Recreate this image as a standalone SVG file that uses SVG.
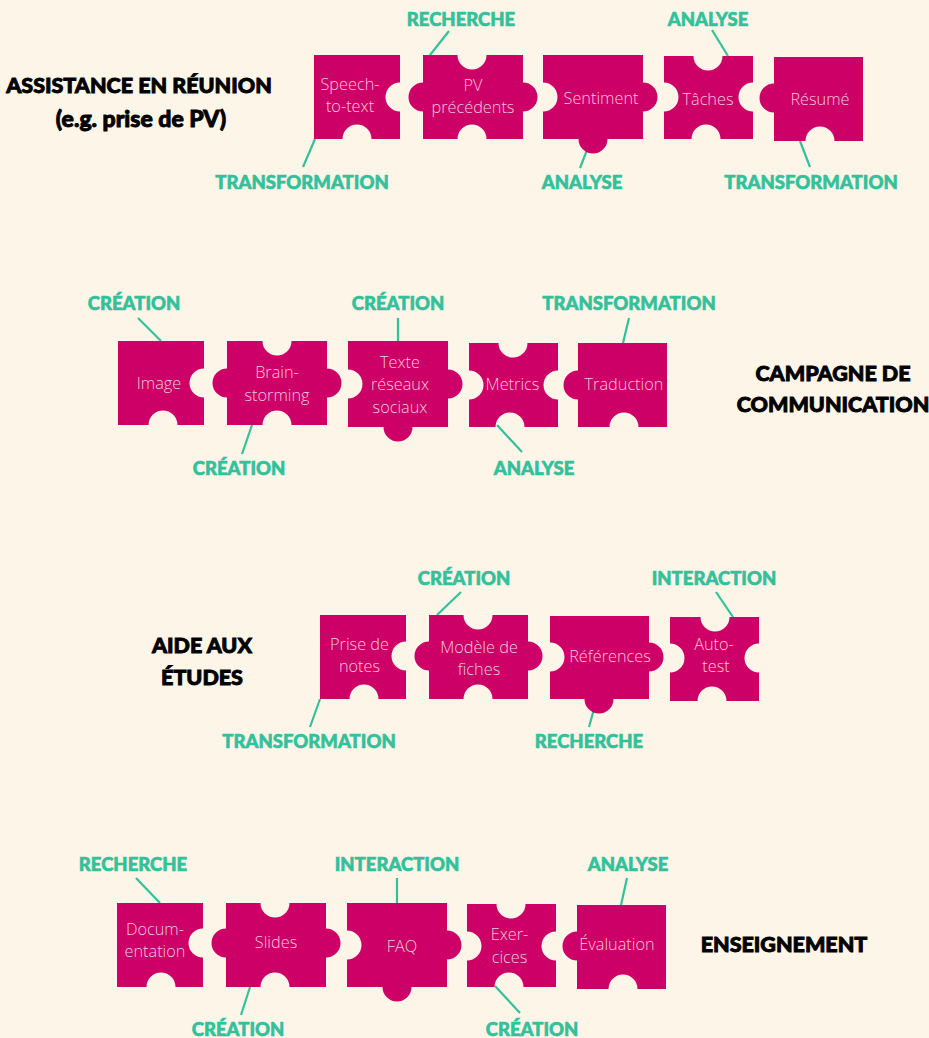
<svg xmlns="http://www.w3.org/2000/svg" width="929" height="1038" viewBox="0 0 929 1038">
<style>
.bg{fill:#fdf6e8}
.pc{fill:#cc0066}
.pt{fill:#f7c6de;font-family:"Open Sans","Liberation Sans",sans-serif;font-weight:300;font-size:16.3px;text-anchor:middle}
.lb{fill:#33c09b;stroke:#33c09b;stroke-width:0.6;font-family:Lato,"Liberation Sans",sans-serif;font-weight:900;font-size:18.5px;text-anchor:middle}
.tt{fill:#000;stroke:#000;stroke-width:0.9;font-family:Lato,"Liberation Sans",sans-serif;font-weight:900;font-size:21.5px;text-anchor:middle}
.ln{stroke:#33c09b;stroke-width:2.2;fill:none}
</style>
<rect class="bg" width="929" height="1038"/>
<g id="connectors">
<line class="ln" x1="430" y1="55" x2="449" y2="31"/>
<line class="ln" x1="315" y1="139" x2="303" y2="167"/>
<line class="ln" x1="587" y1="150" x2="580" y2="168"/>
<line class="ln" x1="728" y1="56" x2="712" y2="30"/>
<line class="ln" x1="800" y1="141" x2="810" y2="167"/>
<line class="ln" x1="161" y1="341" x2="138" y2="318"/>
<line class="ln" x1="252" y1="425" x2="242" y2="454"/>
<line class="ln" x1="398" y1="341" x2="398" y2="318"/>
<line class="ln" x1="623" y1="343" x2="629" y2="318"/>
<line class="ln" x1="497" y1="425" x2="522" y2="452"/>
<line class="ln" x1="437" y1="615" x2="461" y2="592"/>
<line class="ln" x1="733" y1="617" x2="716" y2="592"/>
<line class="ln" x1="320" y1="699" x2="310" y2="727"/>
<line class="ln" x1="594" y1="709" x2="589" y2="727"/>
<line class="ln" x1="160" y1="903" x2="136" y2="878"/>
<line class="ln" x1="250" y1="987" x2="241" y2="1015"/>
<line class="ln" x1="397" y1="903" x2="397" y2="878"/>
<line class="ln" x1="621" y1="905" x2="627" y2="878"/>
<line class="ln" x1="495" y1="986" x2="520" y2="1013"/>
</g>
<g id="title-reunion"><text class="tt" x="139" y="93">ASSISTANCE EN RÉUNION</text><text class="tt" x="141" y="127" style="font-size:23px">(e.g. prise de PV)</text></g>
<g id="title-campagne"><text class="tt" x="833" y="381">CAMPAGNE DE</text><text class="tt" x="833" y="412">COMMUNICATION</text></g>
<g id="title-etudes"><text class="tt" x="202" y="653">AIDE AUX</text><text class="tt" x="202" y="685">ÉTUDES</text></g>
<g id="title-enseignement"><text class="tt" x="784" y="952">ENSEIGNEMENT</text></g>

<g id="n-speech"><path class="pc" d="M314,55 H400 V82.5 A14.5,14.5 0 0 0 400,111.5 V139 H371.5 A14.5,14.5 0 0 0 342.5,139 H314 Z"/><text class="pt" x="350" y="90">Speech-</text><text class="pt" x="350" y="112">to-text</text></g>
<g id="n-pv"><path class="pc" d="M423,55 H457.5 A14.5,14.5 0 0 0 486.5,55 H523 V82.5 A14.5,14.5 0 0 1 523,111.5 V139 H486.5 A14.5,14.5 0 0 0 457.5,139 H423 V111.5 A14.5,14.5 0 0 1 423,82.5 Z"/><text class="pt" x="473" y="91">PV</text><text class="pt" x="473" y="113">précédents</text></g>
<g id="n-sentiment"><path class="pc" d="M543,55 H643 V82.5 A14.5,14.5 0 0 1 643,111.5 V139 H607.5 A14.5,14.5 0 0 1 578.5,139 H543 V111.5 A14.5,14.5 0 0 0 543,82.5 Z"/><text class="pt" x="601" y="104">Sentiment</text></g>
<g id="n-taches"><path class="pc" d="M664,56 H693.5 A14.5,14.5 0 0 0 722.5,56 H753 V82.5 A14.5,14.5 0 0 0 753,111.5 V139 H720.5 A14.5,14.5 0 0 0 691.5,139 H664 V111.5 A14.5,14.5 0 0 0 664,82.5 Z"/><text class="pt" x="708" y="105">Tâches</text></g>
<g id="n-resume"><path class="pc" d="M774,57 H863 V141 H834.5 A14.5,14.5 0 0 0 805.5,141 H774 V112.5 A14.5,14.5 0 0 1 774,83.5 Z"/><text class="pt" x="820" y="105">Résumé</text></g>

<g id="n-image"><path class="pc" d="M118,341 H204 V368.5 A14.5,14.5 0 0 0 204,397.5 V425 H177.5 A14.5,14.5 0 0 0 148.5,425 H118 Z"/><text class="pt" x="159" y="389">Image</text></g>
<g id="n-brain"><path class="pc" d="M227,341 H262.5 A14.5,14.5 0 0 0 291.5,341 H327 V368.5 A14.5,14.5 0 0 1 327,397.5 V425 H291.5 A14.5,14.5 0 0 0 262.5,425 H227 V397.5 A14.5,14.5 0 0 1 227,368.5 Z"/><text class="pt" x="277" y="378">Brain-</text><text class="pt" x="277" y="401">storming</text></g>
<g id="n-texte"><path class="pc" d="M348,341 H448 V369.5 A14.5,14.5 0 0 1 448,398.5 V427 H412.5 A14.5,14.5 0 0 1 383.5,427 H348 V398.5 A14.5,14.5 0 0 0 348,369.5 Z"/><text class="pt" x="400" y="368">Texte</text><text class="pt" x="400" y="390">réseaux</text><text class="pt" x="400" y="413">sociaux</text></g>
<g id="n-metrics"><path class="pc" d="M469,343 H498.5 A14.5,14.5 0 0 0 527.5,343 H558 V370.5 A14.5,14.5 0 0 0 558,399.5 V427 H524.5 A14.5,14.5 0 0 0 495.5,427 H469 V399.5 A14.5,14.5 0 0 0 469,370.5 Z"/><text class="pt" x="512.5" y="390">Metrics</text></g>
<g id="n-traduction"><path class="pc" d="M578,343 H667 V427 H638.5 A14.5,14.5 0 0 0 609.5,427 H578 V399.5 A14.5,14.5 0 0 1 578,370.5 Z"/><text class="pt" x="624" y="390">Traduction</text></g>

<g id="n-prise"><path class="pc" d="M320,615 H406 V641.5 A14.5,14.5 0 0 0 406,670.5 V699 H378.5 A14.5,14.5 0 0 0 349.5,699 H320 Z"/><text class="pt" x="359.5" y="650">Prise de</text><text class="pt" x="359.5" y="672">notes</text></g>
<g id="n-modele"><path class="pc" d="M429,615 H463.5 A14.5,14.5 0 0 0 492.5,615 H528 V641.5 A14.5,14.5 0 0 1 528,670.5 V699 H492.5 A14.5,14.5 0 0 0 463.5,699 H429 V670.5 A14.5,14.5 0 0 1 429,641.5 Z"/><text class="pt" x="479" y="653">Modèle de</text><text class="pt" x="479" y="675">fiches</text></g>
<g id="n-references"><path class="pc" d="M550,616 H649 V642.5 A14.5,14.5 0 0 1 649,671.5 V699 H613.5 A14.5,14.5 0 0 1 584.5,699 H550 V671.5 A14.5,14.5 0 0 0 550,642.5 Z"/><text class="pt" x="610" y="662">Références</text></g>
<g id="n-autotest"><path class="pc" d="M670,617 H700.5 A14.5,14.5 0 0 0 729.5,617 H759 V643.5 A14.5,14.5 0 0 0 759,672.5 V701 H726.5 A14.5,14.5 0 0 0 697.5,701 H670 V672.5 A14.5,14.5 0 0 0 670,643.5 Z"/><text class="pt" x="714" y="650">Auto-</text><text class="pt" x="716" y="672">test</text></g>

<g id="n-documentation"><path class="pc" d="M117,903 H203 V928.5 A14.5,14.5 0 0 0 203,957.5 V987 H175.5 A14.5,14.5 0 0 0 146.5,987 H117 Z"/><text class="pt" x="155" y="935">Docum-</text><text class="pt" x="155" y="957">entation</text></g>
<g id="n-slides"><path class="pc" d="M226,903 H260.5 A14.5,14.5 0 0 0 289.5,903 H326 V928.5 A14.5,14.5 0 0 1 326,957.5 V987 H289.5 A14.5,14.5 0 0 0 260.5,987 H226 V957.5 A14.5,14.5 0 0 1 226,928.5 Z"/><text class="pt" x="276" y="948">Slides</text></g>
<g id="n-faq"><path class="pc" d="M347,903 H447 V930.5 A14.5,14.5 0 0 1 447,959.5 V987 H411.5 A14.5,14.5 0 0 1 382.5,987 H347 V959.5 A14.5,14.5 0 0 0 347,930.5 Z"/><text class="pt" x="402" y="952">FAQ</text></g>
<g id="n-exercices"><path class="pc" d="M467,904 H496.5 A14.5,14.5 0 0 0 525.5,904 H556 V931.5 A14.5,14.5 0 0 0 556,960.5 V987 H523.5 A14.5,14.5 0 0 0 494.5,987 H467 V960.5 A14.5,14.5 0 0 0 467,931.5 Z"/><text class="pt" x="509.5" y="940">Exer-</text><text class="pt" x="509.5" y="963">cices</text></g>
<g id="n-evaluation"><path class="pc" d="M577,905 H666 V989 H637.5 A14.5,14.5 0 0 0 608.5,989 H577 V960.5 A14.5,14.5 0 0 1 577,931.5 Z"/><text class="pt" x="617" y="950">Évaluation</text></g>

<g id="labels">
<text class="lb" x="461" y="26">RECHERCHE</text>
<text class="lb" x="302" y="189">TRANSFORMATION</text>
<text class="lb" x="582" y="189">ANALYSE</text>
<text class="lb" x="708" y="26">ANALYSE</text>
<text class="lb" x="811" y="189">TRANSFORMATION</text>
<text class="lb" x="134" y="310">CRÉATION</text>
<text class="lb" x="239" y="475">CRÉATION</text>
<text class="lb" x="398" y="310">CRÉATION</text>
<text class="lb" x="629" y="310">TRANSFORMATION</text>
<text class="lb" x="534" y="475">ANALYSE</text>
<text class="lb" x="464" y="585">CRÉATION</text>
<text class="lb" x="714" y="585">INTERACTION</text>
<text class="lb" x="309" y="748">TRANSFORMATION</text>
<text class="lb" x="589" y="748">RECHERCHE</text>
<text class="lb" x="133" y="871">RECHERCHE</text>
<text class="lb" x="238" y="1036">CRÉATION</text>
<text class="lb" x="397" y="871">INTERACTION</text>
<text class="lb" x="628" y="871">ANALYSE</text>
<text class="lb" x="532" y="1036">CRÉATION</text>
</g>
</svg>
